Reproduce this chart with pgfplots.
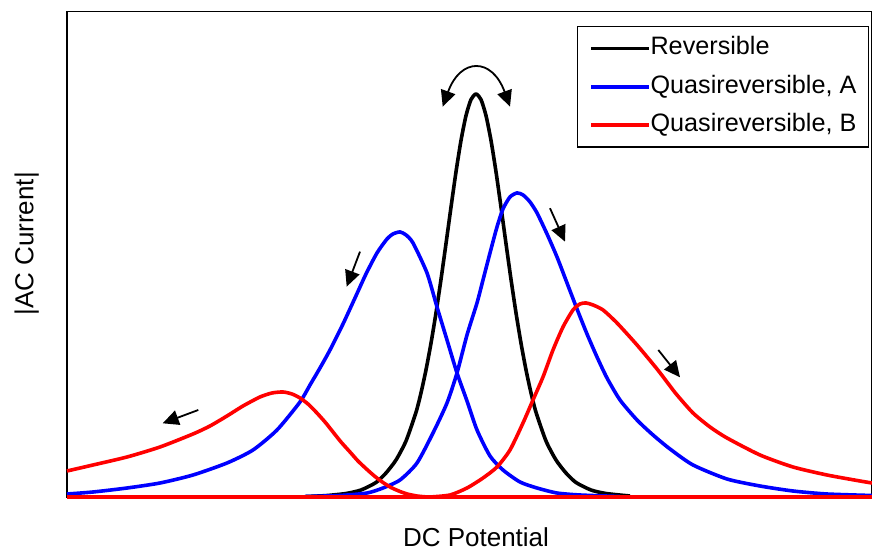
\documentclass[border=0pt]{standalone}
\usepackage{fontspec}
\setmainfont{Liberation Sans}
\usepackage{pgfplots}
\pgfplotsset{compat=1.18}
\usetikzlibrary{arrows.meta}
\begin{document}
\begin{tikzpicture}
\path[use as bounding box] (-33.5pt,-27.5pt) rectangle (402.5pt,248.5pt);
\begin{axis}[
  scale only axis, width=402.5pt, height=242.5pt,
  xmin=67, xmax=872, ymin=0, ymax=485,
  xtick=\empty, ytick=\empty,
  axis line style={line width=0.6pt},
  clip=false,
  legend style={at={(rel axis cs:0.9963,0.9711)}, anchor=north east,
    draw=black, line width=0.6pt, font=\fontsize{12.6}{15}\selectfont,
    inner xsep=6pt, inner ysep=5pt, row sep=7.4pt,
    nodes={inner sep=0pt, text height=9.2pt, text depth=2.6pt}},
  legend cell align=left,
  legend image code/.code={\path (0pt,0pt) -- (28.8pt,0pt);\draw[#1] (0.5pt,0pt) -- (24.5pt,0pt);},
  every axis plot/.append style={line width=1.8pt, line join=round, smooth, tension=0.4},
]
% Reversible
\addplot[black] coordinates {
(306,0.5) (326,1.4) (346,3.5) (361,7.0) (376,14.5) (386,24) (396,37) (406,56)
(416,84.7) (421,104.1) (426,127.1) (431,153.8) (436,184.1) (441,217.6) (446,253.3)
(451,289.8) (456,325.1) (461,356.5) (466,381.3) (471,397.4) (476,403)
(481,397.4) (486,381.3) (491,356.5) (496,325.1) (501,289.8) (506,253.3) (511,217.6)
(516,184.1) (521,153.8) (526,127.1) (531,104.1) (536,84.7) (546,56) (556,37)
(566,24) (576,14.5) (591,7.0) (606,3.5) (630,1.0)};
\addlegendentry{Reversible}
% Quasireversible A, left peak
\addplot[blue] coordinates {
(67,3) (93,5) (127,9) (160,14) (193,22) (227,34) (253,47) (277,67) (300,95)
(310,112) (320,129) (330,147) (343,173) (355,199) (366,223) (377,244) (387,258) (393,263)
(400,265) (406,262) (413,254) (427,224) (437,190) (447,157) (457,124) (467,96)
(477,67) (490,41) (503,27) (520,15) (537,9) (557,4) (580,2) (620,0.5)};
\addlegendentry{Quasireversible, A}
% Quasireversible A, right peak
\addplot[blue, forget plot] coordinates {
(305,0.5) (340,1.5) (367,4) (383,9) (400,17) (417,34) (433,64) (447,94) (457,124)
(467,162) (477,194) (483,217) (490,244) (497,270) (503,288) (510,300) (517,304)
(523,302) (530,295) (537,284) (547,263) (557,240) (567,214) (577,188) (587,163)
(597,140) (607,119) (620,97) (637,77) (653,62) (670,48) (693,32) (727,18) (760,11)
(793,6) (827,3) (872,1.5)};
% Quasireversible B, left peak
\addplot[red] coordinates {
(67,26) (93,32) (127,40) (160,50) (193,63) (210,71) (227,81) (243,91) (260,100)
(272,104) (283,105) (292,103) (300,99) (308,93) (316,85) (325,75) (333,65)
(341,55) (350,45) (358,36) (367,27.5) (375,20.5) (383,14.5) (391,9.5) (400,5.5)
(408,2.8) (417,1) (425,0.2)};
\addlegendentry{Quasireversible, B}
% Quasireversible B, right peak
\addplot[red, forget plot] coordinates {
(430,0) (450,2) (467,9) (483,19) (497,30) (510,47) (523,74) (533,97) (543,120)
(553,147) (563,170) (573,187) (580,193) (586,194) (593,192) (603,187) (617,174)
(637,152) (657,128) (670,111) (677,102) (693,84) (710,70) (727,59) (760,42)
(793,30) (827,22) (860,16) (872,14)};
% baseline of the B series
\addplot[red, forget plot, smooth=false] coordinates {(67,0) (872,0)};
% annotations
\draw[line width=0.9pt, {Triangle[length=8pt,width=7.5pt]}-{Triangle[length=8pt,width=7.5pt]}]
  (442.7,390.3) to[out=70,in=110,looseness=2.0] (510,390.3);
\draw[line width=0.9pt, -{Triangle[length=8pt,width=7.5pt]}] (360,245.3) -- (346.7,210.3);
\draw[line width=0.9pt, -{Triangle[length=8pt,width=7.5pt]}] (550,288.7) -- (565,255.3);
\draw[line width=0.9pt, -{Triangle[length=8pt,width=7.5pt]}] (198.3,87) -- (162.7,73.7);
\draw[line width=0.9pt, -{Triangle[length=8pt,width=7.5pt]}] (658.3,147) -- (680,119.7);
\node[anchor=base, font=\fontsize{13}{15}\selectfont] at (476,-49.7) {DC Potential};
\node[anchor=base, rotate=90, font=\fontsize{13}{15}\selectfont] at (33.3,253) {|AC Current|};
\end{axis}
\end{tikzpicture}
\end{document}
